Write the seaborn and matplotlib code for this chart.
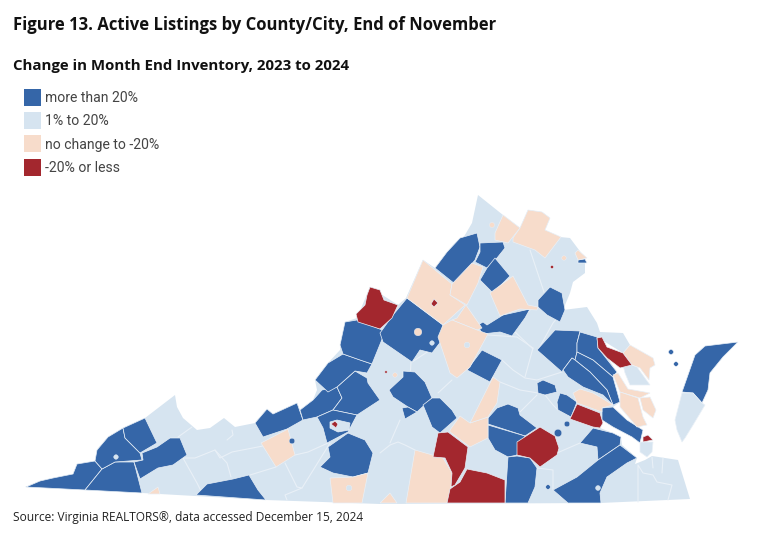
import pandas as pd
import matplotlib.pyplot as plt
from matplotlib.patches import Patch
import seaborn as sns

# Outlines, in image pixels (x, y)
state_outline = [(25,487),(40,481),(53,478),(73,474),(77,464),(95,461),(97,450),(108,437),(123,428),(145,418),
    (175,395),(177,407),(183,418),(197,430),(210,428),(224,418),(235,427),(255,423),(267,409),(273,414),(297,403),
    (300,410),(313,400),(317,390),(315,380),(328,363),(340,350),(345,322),(357,318),(370,287),(398,305),(406,298),
    (423,260),(435,268),(447,252),(460,238),(462,240),(472,223),(478,195),(503,215),(520,228),(528,210),(542,212),
    (550,218),(545,230),(560,237),(570,238),(585,258),(585,273),(573,282),(570,293),(563,310),(587,307),(597,323),
    (600,332),(623,333),(630,345),(623,353),(602,340),(597,342),(617,372),(613,377),(620,402),(613,407),(602,420),
    (600,428),(613,433),(621,437),(622,445),(637,458),(635,464),(645,460),(652,456),(678,460),(690,499),(600,503),
    (380,504),(266,500),(142,493)]

more_than_20 = [
    [(26,487),(40,481),(53,478),(73,474),(77,464),(95,461),(102,469),(85,490)],
    [(85,490),(102,469),(115,462),(134,462),(142,493)],
    [(95,461),(97,450),(108,437),(123,428),(125,438),(140,453),(142,460),(115,462),(102,469)],
    [(123,428),(145,418),(157,443),(140,453),(125,438)],
    [(142,453),(157,447),(170,438),(180,438),(187,455),(173,465),(158,468),(140,479),(134,462),(143,460)],
    [(196,495),(207,484),(233,479),(249,475),(258,490),(266,500)],
    [(255,423),(267,409),(273,414),(297,403),(303,420),(287,429),(263,437)],
    [(300,410),(313,400),(322,390),(337,387),(342,398),(333,410),(317,417),(303,420)],
    [(337,387),(355,371),(367,378),(368,383),(380,400),(357,415),(333,410),(342,398)],
    [(315,380),(328,363),(343,354),(372,364),(367,373),(355,371),(337,387),(328,392)],
    [(343,354),(340,345),(345,322),(357,320),(380,329),(385,332),(372,364),(360,360)],
    [(317,417),(333,410),(357,415),(348,432),(327,443),(323,428)],
    [(328,447),(348,433),(365,440),(373,453),(368,473),(353,477),(333,473),(320,467),(330,457)],
    [(407,298),(443,325),(442,340),(432,353),(420,350),(412,362),(383,342),(380,333),(393,315)],
    [(435,268),(447,252),(460,238),(477,233),(480,247),(475,260),(455,284)],
    [(480,243),(503,242),(505,248),(497,258),(487,268),(475,262),(480,252)],
    [(487,268),(495,258),(510,276),(493,293),(480,280)],
    [(538,300),(550,287),(562,293),(565,310),(560,322),(547,315),(538,307)],
    [(478,325),(483,322),(487,325),(503,315),(530,309),(525,318),(512,336),(500,332),(482,334)],
    [(467,370),(482,350),(502,360),(490,382)],
    [(537,350),(555,330),(580,331),(577,343),(577,352),(575,360),(572,358),(563,370),(562,372)],
    [(580,332),(597,337),(598,348),(617,372),(613,377),(593,360),(577,352),(577,343)],
    [(577,352),(593,360),(613,377),(620,402),(613,405),(607,390),(590,372),(575,360)],
    [(563,370),(572,358),(575,360),(590,372),(607,390),(613,405),(603,395),(583,387),(568,377)],
    [(537,383),(543,380),(555,385),(557,392),(545,395),(538,393)],
    [(560,393),(567,395),(577,402),(571,417),(558,410),(557,402)],
    [(602,408),(613,407),(627,420),(643,430),(640,443),(632,437),(613,427),(602,420)],
    [(580,443),(593,428),(613,433),(621,437),(620,445),(598,460),(597,447)],
    [(553,490),(577,477),(598,460),(620,445),(637,458),(627,463),(607,477),(600,493),(601,503),(568,503)],
    [(488,418),(497,408),(508,404),(518,408),(520,415),(537,428),(525,436),(488,424)],
    [(488,425),(525,436),(517,455),(508,457),(495,450),(488,438)],
    [(508,457),(517,456),(530,458),(537,468),(535,487),(528,503),(505,503)],
    [(389,390),(403,377),(403,371),(415,372),(425,382),(432,398),(417,412),(408,407),(393,397)],
    [(402,408),(408,407),(417,412),(405,419)],
    [(423,405),(432,398),(440,398),(452,410),(457,418),(440,433),(432,427)],
    [(682,392),(695,355),(705,346),(738,342),(723,357),(710,373),(708,390),(702,403),(693,393)],
    [(578,260),(585,259),(587,263),(578,263)],
]

one_to_20 = [
    [(623,365),(632,365),(637,367),(650,385),(630,385),(625,373)],
    [(640,442),(653,442),(652,452),(647,457),(640,452)],
    [(682,393),(693,393),(702,403),(705,405),(693,425),(685,438),(682,442),(677,430),(675,420)],
    [(330,422),(337,420),(350,423),(349,430),(338,432),(330,428)],
]

no_change = [
    [(261,443),(288,429),(295,455),(276,467)],
    [(330,478),(353,477),(368,473),(362,503),(333,503)],
    [(148,494),(158,487),(160,494)],
    [(407,298),(423,260),(452,284),(450,295),(465,305),(443,325)],
    [(452,284),(472,263),(483,267),(478,283),(467,305),(450,295)],
    [(457,318),(466,305),(482,328),(477,330),(452,320)],
    [(452,320),(477,330),(488,334),(470,367),(457,378),(450,373),(438,337),(443,325)],
    [(490,293),(513,276),(528,305),(538,307),(537,310),(520,309),(500,316)],
    [(495,233),(503,215),(520,228),(508,243),(495,240)],
    [(513,238),(520,228),(528,210),(542,212),(550,218),(545,230),(561,237),(545,258),(535,250),(513,242)],
    [(575,253),(578,250),(587,258),(578,260)],
    [(415,450),(443,458),(452,473),(451,487),(447,503),(406,503)],
    [(450,430),(460,416),(470,423),(488,417),(488,438),(470,447),(450,432)],
    [(470,423),(493,377),(500,382),(497,403),(488,417)],
    [(380,503),(390,493),(397,503)],
    [(623,353),(630,345),(653,358),(655,365),(650,368),(649,380),(640,368),(632,365)],
    [(613,375),(618,373),(628,389),(650,393),(640,398),(620,392)],
    [(620,392),(638,398),(643,417),(647,425),(637,427),(620,407)],
    [(640,398),(650,397),(656,410),(653,418),(643,410)],
    [(573,393),(580,389),(593,393),(600,397),(613,405),(602,408),(602,412),(577,403)],
]

minus_20 = [
    [(370,287),(380,290),(384,300),(398,305),(392,318),(380,329),(358,322),(356,314),(365,305),(367,295)],
    [(597,338),(602,337),(607,347),(623,353),(632,365),(620,368),(607,358),(598,348)],
    [(577,404),(600,413),(603,423),(600,428),(593,427),(570,419)],
    [(643,437),(648,435),(653,440),(643,442)],
    [(540,427),(555,436),(559,448),(557,455),(540,467),(530,458),(517,455),(517,442)],
    [(467,469),(487,473),(505,480),(505,503),(447,503),(450,489),(460,482)],
    [(438,433),(448,432),(468,447),(465,468),(455,485),(451,487),(452,473),(445,458),(433,457)],
    [(331,424),(335,421),(338,424),(336,428)],
    [(431,304),(434,299),(438,303),(434,307)],
]

# borders between the pale counties
county_lines = [
    [(192,427),(178,437)],
    [(183,458),(195,458),(215,450),(220,458),(232,452),(263,446)],
    [(227,440),(233,435),(232,430)],
    [(183,458),(197,483),(202,493)],
    [(215,450),(227,463),(231,477)],
    [(250,475),(276,467)],
    [(285,463),(297,487),(302,488),(285,495),(287,500)],
    [(302,488),(312,472),(330,443)],
    [(295,455),(308,452),(328,443)],
    [(380,453),(390,445),(398,442),(405,445),(415,450)],
    [(400,420),(390,443)],
    [(438,393),(452,380)],
    [(412,362),(438,345)],
    [(533,348),(525,377)],
    [(488,335),(517,337),(533,348)],
    [(502,360),(513,370),(525,378),(537,380),(562,372)],
    [(500,382),(520,390),(538,393)],
    [(537,395),(520,412)],
    [(545,395),(553,405),(558,410)],
    [(557,453),(580,443)],
    [(537,468),(553,470),(553,490)],
    [(638,502),(638,465),(643,473),(653,475),(657,482),(672,485),(668,500)],
    [(663,458),(662,473)],
    [(652,457),(653,468)],
    [(530,250),(545,295)],
    [(530,310),(513,330),(533,349)],
    [(562,312),(553,323),(538,350)],
    [(411,362),(410,380)],
    [(607,458),(608,467),(600,490)],
    [(488,418),(525,436)],
]

# independent cities, too small to trace
city_x = [292, 349, 116, 418, 432, 467, 492, 564, 552, 386, 395, 671, 676, 548, 558, 567, 598]
city_y = [441, 488, 457, 332, 343, 345, 225, 258, 267, 372, 375, 352, 364, 487, 433, 424, 488]
city_size = [22, 22, 14, 40, 14, 22, 18, 14, 6, 4, 14, 16, 14, 14, 40, 22, 16]
city_group = ['more than 20%', '1% to 20%', '1% to 20%', 'no change to -20%', '1% to 20%', '1% to 20%',
              'no change to -20%', 'no change to -20%', '-20% or less', '-20% or less', 'no change to -20%',
              'more than 20%', 'more than 20%', 'more than 20%', 'more than 20%', 'more than 20%',
              '1% to 20%']

legend_labels = ['more than 20%', '1% to 20%', 'no change to -20%', '-20% or less']
colors = ['#3566A8', '#D6E4F0', '#F7DCCB', '#A3272E']

sns.set_theme(style='white')
palette = dict(zip(legend_labels, sns.color_palette(colors)))
line_color = '#E9F0F7'

fig = plt.figure(figsize=(7.68, 5.55), dpi=100)
ax = fig.add_axes([0, 0, 1, 1])
ax.set_xlim(0, 768)
ax.set_ylim(555, 0)
ax.axis('off')

xs, ys = zip(*state_outline)
ax.fill(xs, ys, color=colors[1], lw=0, zorder=1)

for line in county_lines:
    xs, ys = zip(*line)
    ax.plot(xs, ys, color=line_color, lw=0.8, zorder=2)

for label, shapes in zip(legend_labels, [more_than_20, one_to_20, no_change, minus_20]):
    for shape in shapes:
        xs, ys = zip(*shape)
        ax.fill(xs, ys, facecolor=palette[label], edgecolor=line_color, lw=0.5, zorder=3)

cities = pd.DataFrame({'x': city_x, 'y': city_y, 'size': city_size, 'group': city_group})
sns.scatterplot(data=cities, x='x', y='y', hue='group', palette=palette, size='size', sizes=(3, 30),
                edgecolor=line_color, linewidth=0.3, legend=False, ax=ax, zorder=4)
ax.set_xlim(0, 768)
ax.set_ylim(555, 0)
ax.axis('off')

handles = [Patch(facecolor=palette[l], edgecolor='none', label=l) for l in legend_labels]
ax.legend(handles=handles, loc='upper left', bbox_to_anchor=(24 / 768, 1 - 89 / 555), frameon=False,
          prop={'family': 'Roboto', 'size': 10.1}, labelcolor='#444444', borderpad=0, borderaxespad=0,
          handlelength=1.2, handleheight=1.49, handletextpad=0.3, labelspacing=0.44)

ax.text(13, 25, 'Figure 13. Active Listings by County/City, End of November', family='Open Sans',
        weight='bold', fontsize=12, color='#111111', va='center')
ax.text(13, 66, 'Change in Month End Inventory, 2023 to 2024', family='Open Sans',
        weight='bold', fontsize=10.8, color='#111111', va='center')
ax.text(13, 517, 'Source: Virginia REALTORS®, data accessed December 15, 2024', family='Open Sans',
        fontsize=8.6, color='#222222', va='center')

plt.savefig('out.png', dpi=100)
